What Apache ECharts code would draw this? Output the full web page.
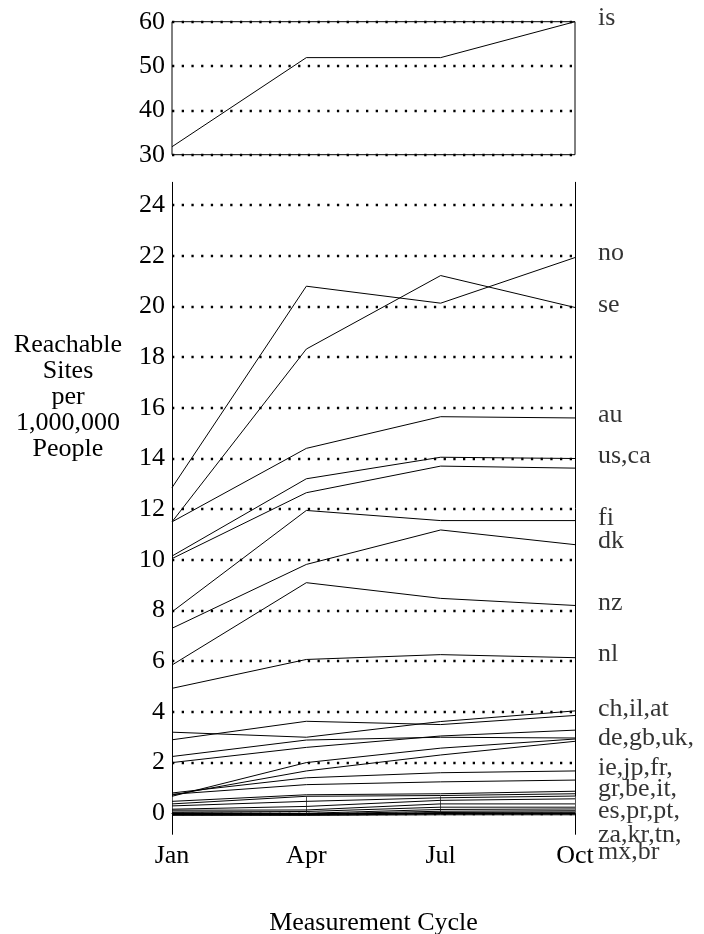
<!DOCTYPE html>
<html>
<head>
<meta charset="utf-8">
<script src="https://cdn.jsdelivr.net/npm/echarts@6/dist/echarts.min.js"></script>
<style>
  html, body { margin: 0; padding: 0; background: #fff; }
  #chart { width: 704px; height: 934px; }
</style>
</head>
<body>
<div id="chart"></div>
<script>
// ---- data ----
const categories = ['Jan', 'Apr', 'Jul', 'Oct'];

// upper panel
const is = [31.8, 51.9, 51.9, 60.0];

// lower panel
const no = [12.85, 20.80, 20.13, 21.93];
const se = [11.50, 18.32, 21.22, 19.96];
const au = [11.50, 14.40, 15.65, 15.60];
const us = [10.15, 13.20, 14.05, 14.00];
const ca = [10.05, 12.65, 13.70, 13.62];
const fi = [7.95, 11.95, 11.55, 11.55];
const dk = [7.30, 9.82, 11.18, 10.60];
const nz = [5.85, 9.10, 8.48, 8.20];
const nl = [4.93, 6.07, 6.26, 6.14];
const ch = [3.20, 3.00, 3.62, 4.04];
const il = [2.90, 3.63, 3.50, 3.86];
const at = [2.00, 2.60, 3.05, 3.28];
const de = [2.24, 2.89, 3.00, 2.97];
const gb = [0.67, 2.00, 2.57, 2.93];
const uk = [0.72, 1.67, 2.30, 2.84];
const ie = [0.80, 1.40, 1.60, 1.67];
const jp = [0.75, 1.13, 1.24, 1.31];
const fr = [0.47, 0.73, 0.77, 0.87];
const gr = [0.37, 0.67, 0.70, 0.77];
const be = [0.29, 0.47, 0.61, 0.68];
const it = [0.16, 0.27, 0.51, 0.57];
const es = [0.12, 0.13, 0.37, 0.37];
const pr = [0.05, 0.07, 0.24, 0.24];
const pt = [0.02, 0.00, 0.15, 0.17];
const za = [0.00, -0.03, 0.08, 0.10];
const kr = [-0.03, -0.05, 0.03, 0.05];
const tn = [-0.05, -0.05, 0.00, 0.02];
const mx = [-0.06, -0.07, -0.03, -0.03];
const br = [-0.08, -0.08, -0.06, -0.06];

const lowerSeries = { no, se, au, us, ca, fi, dk, nz, nl, ch, il, at, de, gb, uk,
  ie, jp, fr, gr, be, it, es, pr, pt, za, kr, tn, mx, br };

// tick labels
const upperTicks = [30, 40, 50, 60];
const lowerTicks = [0, 2, 4, 6, 8, 10, 12, 14, 16, 18, 20, 22, 24];

// right-hand annotations (text and the value level where each sits)
const upperLabelTexts = ['is'];
const upperLabelAt = [60.7];
const lowerLabelTexts = ['no', 'se', 'au', 'us,ca', 'fi', 'dk', 'nz', 'nl',
  'ch,il,at', 'de,gb,uk,', 'ie,jp,fr,', 'gr,be,it,', 'es,pr,pt,', 'za,kr,tn,', 'mx,br'];
const lowerLabelAt = [22.11, 20.04, 15.7, 14.08, 11.65, 10.73, 8.31, 6.26,
  4.1, 2.97, 1.76, 0.95, 0.08, -0.87, -1.55];

const yTitle = 'Reachable\nSites\nper\n1,000,000\nPeople';
const xTitle = 'Measurement Cycle';

// ---- chart ----
const FONT = 'Liberation Serif, Times New Roman, serif';
const chart = echarts.init(document.getElementById('chart'), null, { renderer: 'canvas' });

const dotted = { color: '#000', width: 2.3, type: [2.3, 7.4] };
const lineStyle = { color: '#000', width: 1 };

const series = [];
series.push({
  type: 'line', xAxisIndex: 0, yAxisIndex: 0, data: is, name: 'is',
  symbol: 'none', lineStyle: lineStyle, silent: true
});
Object.keys(lowerSeries).forEach(k => {
  series.push({
    type: 'line', xAxisIndex: 1, yAxisIndex: 1, data: lowerSeries[k], name: k,
    symbol: 'none', lineStyle: lineStyle, silent: true
  });
});
const labelCfg = {
  show: true, position: 'right', distance: 23, formatter: '{b}',
  fontFamily: FONT, fontSize: 26, color: '#000', align: 'left'
};
series.push({
  type: 'scatter', xAxisIndex: 0, yAxisIndex: 0, symbolSize: 0, clip: false, silent: true,
  data: upperLabelTexts.map((t, i) => ({ name: t, value: ['Oct', upperLabelAt[i]] })),
  label: labelCfg
});
series.push({
  type: 'scatter', xAxisIndex: 1, yAxisIndex: 1, symbolSize: 0, clip: false, silent: true,
  data: lowerLabelTexts.map((t, i) => ({ name: t, value: ['Oct', lowerLabelAt[i]] })),
  label: labelCfg
});

const option = {
  animation: false,
  backgroundColor: '#fff',
  textStyle: { fontFamily: FONT },
  grid: [
    { left: 172, right: 129, top: 21.7, height: 133, show: true,
      borderColor: '#000', borderWidth: 1, backgroundColor: 'transparent', containLabel: false },
    { left: 172, right: 129, top: 182.3, height: 652, containLabel: false }
  ],
  xAxis: [
    { gridIndex: 0, type: 'category', data: categories, boundaryGap: false,
      axisLine: { show: false }, axisTick: { show: false }, axisLabel: { show: false },
      splitLine: { show: false } },
    { gridIndex: 1, type: 'category', data: categories, boundaryGap: false, position: 'bottom',
      axisLine: { show: false },
      axisTick: { show: true, inside: true, length: 17, lineStyle: { color: '#555', width: 1 } },
      axisLabel: { show: true, fontFamily: FONT, fontSize: 26, color: '#000', margin: 9 },
      splitLine: { show: false } },
    { gridIndex: 1, type: 'category', data: categories, boundaryGap: false, position: 'top',
      axisLine: { show: true, lineStyle: { color: '#000', width: 1 } },
      axisTick: { show: false }, axisLabel: { show: false }, splitLine: { show: false } }
  ],
  yAxis: [
    { gridIndex: 0, type: 'value', min: 30, max: 60, interval: 10,
      axisLine: { show: false }, axisTick: { show: false },
      axisLabel: { fontFamily: FONT, fontSize: 26, color: '#000', margin: 7,
        customValues: upperTicks },
      splitLine: { show: true, lineStyle: dotted } },
    { gridIndex: 1, type: 'value', min: -0.83, max: 24.9,
      axisLine: { show: true, onZero: false, lineStyle: { color: '#000', width: 1 } },
      axisTick: { show: false, customValues: lowerTicks },
      axisLabel: { fontFamily: FONT, fontSize: 26, color: '#000', margin: 7,
        customValues: lowerTicks },
      splitLine: { show: true, lineStyle: dotted } },
    { gridIndex: 1, type: 'value', min: -0.83, max: 24.9, position: 'right',
      axisLine: { show: true, onZero: false, lineStyle: { color: '#000', width: 1 } },
      axisTick: { show: false }, axisLabel: { show: false }, splitLine: { show: false } }
  ],
  graphic: [
    { type: 'text', x: 68, y: 397, silent: true,
      style: { text: yTitle, fill: '#000', font: '26px ' + FONT, lineHeight: 26,
        align: 'center', verticalAlign: 'middle', textAlign: 'center', textVerticalAlign: 'middle' } },
    { type: 'text', x: 373.5, y: 923, silent: true,
      style: { text: xTitle, fill: '#000', font: '26px ' + FONT,
        align: 'center', verticalAlign: 'middle', textAlign: 'center', textVerticalAlign: 'middle' } }
  ],
  series: series
};
chart.setOption(option);
</script>
</body>
</html>
